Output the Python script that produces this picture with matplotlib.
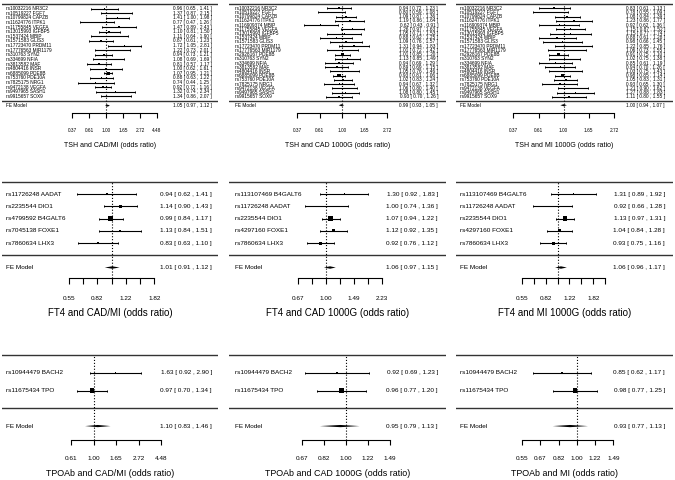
import matplotlib
matplotlib.use("Agg")
import matplotlib.pyplot as plt
import matplotlib.ticker as mticker
import matplotlib.transforms as mtransforms
import numpy as np

plt.rcParams['font.family'] = ['Liberation Sans', 'DejaVu Sans']

W, H = 675, 480

# ---------------- data ----------------
# TSH and CAD/MI
tsh_cadmi_snps = [
    "rs10032216 NR3C2", "rs10519227 FGF7", "rs10799824 CAPZB", "rs11624776 ITPK1",
    "rs11755845 VEGFA", "rs13015993 IGFBP5", "rs1537424 MBIP", "rs1571583 GLIS3",
    "rs17723470 PRDM11", "rs17776563 MIR1179", "rs310763 SYN2", "rs334699 NFIA",
    "rs3813582 MAF", "rs4804416 INSR", "rs6885099 PDE8B", "rs753760 PDE10A",
    "rs7825175 NRG1", "rs9472138 VEGFA", "rs9497965 SASH1", "rs9915657 SOX9"]
tsh_cadmi_or = [0.96, 1.37, 1.41, 0.77, 1.47, 1.10, 1.11, 0.87, 1.72, 1.22,
                0.94, 1.08, 0.81, 1.00, 1.07, 0.88, 0.74, 0.92, 1.32, 1.34]
tsh_cadmi_lo = [0.65, 0.87, 1.00, 0.47, 0.89, 0.81, 0.64, 0.61, 1.05, 0.73,
                0.73, 0.69, 0.57, 0.62, 0.95, 0.63, 0.44, 0.72, 0.74, 0.86]
tsh_cadmi_hi = [1.41, 2.15, 1.98, 1.26, 2.43, 1.50, 1.90, 1.23, 2.81, 2.01,
                1.21, 1.69, 1.17, 1.61, 1.21, 1.22, 1.25, 1.16, 2.34, 2.07]
tsh_cadmi_fe = [1.05, 0.97, 1.12]

# TSH, 1000G (shared SNP list)
tsh_1000g_snps = [
    "rs10032216 NR3C2", "rs10519227 FGF7", "rs10799824 CAPZB", "rs11624776 ITPK1",
    "rs116909374 MBIP", "rs11755845 VEGFA", "rs13015993 IGFBP5", "rs1537424 MBIP",
    "rs1571583 GLIS3", "rs17723470 PRDM11", "rs17776563 MIR1179", "rs2928167 PDE8B",
    "rs310763 SYN2", "rs334699 NFIA", "rs3813582 MAF", "rs4804416 INSR",
    "rs6885099 PDE8B", "rs753760 PDE10A", "rs7825175 NRG1", "rs9472138 VEGFA",
    "rs9497965 SASH1", "rs9915657 SOX9"]
tsh_cad_or = [0.94, 0.80, 1.09, 1.19, 0.62, 1.26, 1.05, 0.88, 1.09, 1.31, 1.01,
              1.01, 1.13, 0.94, 0.89, 1.05, 0.93, 1.02, 0.94, 1.06, 1.08, 0.93]
tsh_cad_lo = [0.72, 0.59, 0.87, 0.86, 0.43, 0.97, 0.71, 0.62, 0.76, 0.94, 0.72,
              0.85, 0.85, 0.69, 0.69, 0.76, 0.81, 0.83, 0.67, 0.80, 0.80, 0.70]
tsh_cad_hi = [1.23, 1.08, 1.36, 1.64, 0.91, 1.63, 1.53, 1.25, 1.57, 1.83, 1.42,
              1.20, 1.49, 1.29, 1.15, 1.46, 1.06, 1.24, 1.32, 1.40, 1.45, 1.26]
tsh_cad_fe = [0.99, 0.93, 1.05]

tsh_mi_or = [0.83, 0.78, 1.08, 1.23, 0.92, 1.15, 1.15, 0.88, 0.98, 1.22, 1.06,
             0.91, 1.02, 0.85, 0.94, 1.03, 0.98, 1.05, 0.93, 1.21, 1.27, 1.11]
tsh_mi_lo = [0.61, 0.55, 0.84, 0.86, 0.62, 0.87, 0.77, 0.61, 0.66, 0.85, 0.73,
             0.75, 0.75, 0.61, 0.70, 0.75, 0.85, 0.83, 0.65, 0.90, 0.88, 0.80]
tsh_mi_hi = [1.13, 1.09, 1.39, 1.77, 1.36, 1.52, 1.74, 1.28, 1.45, 1.76, 1.55,
             1.10, 1.38, 1.19, 1.26, 1.43, 1.14, 1.31, 1.30, 1.62, 1.83, 1.55]
tsh_mi_fe = [1.00, 0.94, 1.07]

# FT4
ft4_cadmi_snps = ["rs11726248 AADAT", "rs2235544 DIO1", "rs4799592 B4GALT6",
                  "rs7045138 FOXE1", "rs7860634 LHX3"]
ft4_cadmi_or = [0.94, 1.14, 0.99, 1.13, 0.83]
ft4_cadmi_lo = [0.62, 0.90, 0.84, 0.84, 0.63]
ft4_cadmi_hi = [1.41, 1.43, 1.17, 1.51, 1.10]
ft4_cadmi_fe = [1.01, 0.91, 1.12]

ft4_1000g_snps = ["rs113107469 B4GALT6", "rs11726248 AADAT", "rs2235544 DIO1",
                  "rs4297160 FOXE1", "rs7860634 LHX3"]
ft4_cad_or = [1.30, 1.00, 1.07, 1.12, 0.92]
ft4_cad_lo = [0.92, 0.74, 0.94, 0.92, 0.76]
ft4_cad_hi = [1.83, 1.36, 1.22, 1.35, 1.12]
ft4_cad_fe = [1.06, 0.97, 1.15]

ft4_mi_or = [1.31, 0.92, 1.13, 1.04, 0.93]
ft4_mi_lo = [0.89, 0.66, 0.97, 0.84, 0.75]
ft4_mi_hi = [1.92, 1.28, 1.31, 1.28, 1.16]
ft4_mi_fe = [1.06, 0.96, 1.17]

# TPOAb
tpo_snps = ["rs10944479 BACH2", "rs11675434 TPO"]
tpo_cadmi_or = [1.63, 0.97]
tpo_cadmi_lo = [0.92, 0.70]
tpo_cadmi_hi = [2.90, 1.34]
tpo_cadmi_fe = [1.10, 0.83, 1.46]

tpo_cad_or = [0.92, 0.96]
tpo_cad_lo = [0.69, 0.77]
tpo_cad_hi = [1.23, 1.20]
tpo_cad_fe = [0.95, 0.79, 1.13]

tpo_mi_or = [0.85, 0.98]
tpo_mi_lo = [0.62, 0.77]
tpo_mi_hi = [1.17, 1.25]
tpo_mi_fe = [0.93, 0.77, 1.13]

# axis tick values
ticks_a = ["0.37", "0.61", "1.00", "1.65", "2.72", "4.48"]
ticks_b = ["0.37", "0.61", "1.00", "1.65", "2.72"]
ticks_c = ["0.55", "0.67", "0.82", "1.00", "1.22", "1.49", "1.82"]
ticks_d = ["0.67", "0.82", "1.00", "1.22", "1.49", "1.82", "2.23"]
ticks_e = ["0.55", "0.67", "0.82", "1.00", "1.22", "1.49", "1.82", "2.23"]
ticks_f = ["0.61", "1.00", "1.65", "2.72", "4.48"]
ticks_g = ["0.67", "0.82", "1.00", "1.22", "1.49"]
ticks_h = ["0.55", "0.67", "0.82", "1.00", "1.22", "1.49"]

# ---------------- layout (pixels) ----------------
# column: axes left, axes right, label x, annotation right x
COLS = [(2, 218, 6, 212), (229, 446, 235, 438), (456, 673, 460, 665)]
# row: top line, separator, axis line, text size, title size, max square,
#      tick length, tick pad, title pad, diamond half height
ROWS = [(4, 101, 113, 3.4, 5.0, 1.7, 3.6, 7.0, 7.0, 1.0),
        (182, 255.3, 278.3, 4.6, 7.0, 2.2, 4.5, 8.0, 5.5, 1.2),
        (355, 408.3, 440, 4.6, 6.4, 2.2, 3.5, 7.8, 6.0, 1.1)]

fig = plt.figure(figsize=(W / 100, H / 100), dpi=100)


def forest(row, col, p1, ppu, labels, est, lo, hi, fe, ticks, every, title):
    L, R, lab_x, ann_x = COLS[col]
    top_px, sep_px, axis_px, fs, tfs, sq, tlen, tpad, lpad, dh = ROWS[row]
    k = len(labels)
    s = (sep_px - top_px) / (k + 1)
    ymin = -(axis_px - sep_px) / s
    ymax = k + 1 + 0.5
    ax_top = top_px - 0.5 * s
    ax = fig.add_axes([L / W, 1 - axis_px / H, (R - L) / W, (axis_px - ax_top) / H])
    ax.set_xscale('log')
    ax.set_xlim(np.exp((L - p1) / ppu), np.exp((R - p1) / ppu))
    ax.set_ylim(ymin, ymax)

    est, lo, hi = np.array(est), np.array(lo), np.array(hi)
    rows = np.arange(k, 0, -1)

    # square size from inverse standard error (metafor style)
    wi = 3.92 / (np.log(hi) - np.log(lo))
    ps = (wi - wi.min()) / (wi.max() - wi.min()) + 0.5
    ax.errorbar(est, rows, xerr=[est - lo, hi - est], fmt='none', ecolor='black',
                elinewidth=0.8, capsize=0.8, capthick=0.7)
    ax.scatter(est, rows, marker='s', s=(sq * ps) ** 2, color='black',
               linewidths=0, zorder=3)

    h = dh / s
    ax.fill([fe[1], fe[0], fe[2], fe[0]], [-1, -1 + h, -1, -1 - h], color='black',
            lw=0, zorder=3)

    ax.axhline(k + 1, color='#333333', lw=1.0)
    ax.axhline(0, color='#333333', lw=1.0)
    ax.plot([1, 1], [ymin, k + 1], ls=':', color='black', lw=0.8)

    tr = mtransforms.blended_transform_factory(ax.transAxes, ax.transData)
    lx = (lab_x - L) / (R - L)
    rx = (ann_x - L) / (R - L)
    for y, lab, e, a, b in zip(rows, labels, est, lo, hi):
        ax.text(lx, y, lab, transform=tr, fontsize=fs, ha='left', va='center')
        ax.text(rx, y, f"{e:.2f} [ {a:.2f} , {b:.2f} ]", transform=tr,
                fontsize=fs, ha='right', va='center')
    ax.text(lx, -1, "FE Model", transform=tr, fontsize=fs, ha='left', va='center')
    ax.text(rx, -1, f"{fe[0]:.2f} [ {fe[1]:.2f} , {fe[2]:.2f} ]", transform=tr,
            fontsize=fs, ha='right', va='center')

    tv = [float(t) for t in ticks]
    tl = [t if i % every == 0 else "" for i, t in enumerate(ticks)]
    ax.set_xticks(tv, tl)
    ax.xaxis.set_minor_locator(mticker.NullLocator())
    ax.tick_params(axis='x', direction='out', length=tlen, width=0.8,
                   labelsize=fs, pad=tpad)
    ax.set_yticks([])
    for sp in ['top', 'left', 'right']:
        ax.spines[sp].set_visible(False)
    ax.spines['bottom'].set_bounds(tv[0], tv[-1])
    ax.spines['bottom'].set_linewidth(0.8)
    ax.set_xlabel(title, fontsize=tfs, labelpad=lpad)
    ax.patch.set_alpha(0)


forest(0, 0, 106, 34, tsh_cadmi_snps, tsh_cadmi_or, tsh_cadmi_lo, tsh_cadmi_hi,
       tsh_cadmi_fe, ticks_a, 1, "TSH and CAD/MI (odds ratio)")
forest(0, 1, 342, 45, tsh_1000g_snps, tsh_cad_or, tsh_cad_lo, tsh_cad_hi,
       tsh_cad_fe, ticks_b, 1, "TSH and CAD 1000G (odds ratio)")
forest(0, 2, 563.5, 50.5, tsh_1000g_snps, tsh_mi_or, tsh_mi_lo, tsh_mi_hi,
       tsh_mi_fe, ticks_b, 1, "TSH and MI 1000G (odds ratio)")

forest(1, 0, 111.5, 71.7, ft4_cadmi_snps, ft4_cadmi_or, ft4_cadmi_lo, ft4_cadmi_hi,
       ft4_cadmi_fe, ticks_c, 2, "FT4 and CAD/MI (odds ratio)")
forest(1, 1, 326, 70, ft4_1000g_snps, ft4_cad_or, ft4_cad_lo, ft4_cad_hi,
       ft4_cad_fe, ticks_d, 2, "FT4 and CAD 1000G (odds ratio)")
forest(1, 2, 557.5, 59.7, ft4_1000g_snps, ft4_mi_or, ft4_mi_lo, ft4_mi_hi,
       ft4_mi_fe, ticks_e, 2, "FT4 and MI 1000G (odds ratio)")

forest(2, 0, 93.5, 45, tpo_snps, tpo_cadmi_or, tpo_cadmi_lo, tpo_cadmi_hi,
       tpo_cadmi_fe, ticks_f, 1, "TPOAb and CAD/MI (odds ratio)")
forest(2, 1, 346, 110.5, tpo_snps, tpo_cad_or, tpo_cad_lo, tpo_cad_hi,
       tpo_cad_fe, ticks_g, 1, "TPOAb and CAD 1000G (odds ratio)")
forest(2, 2, 576.7, 91.7, tpo_snps, tpo_mi_or, tpo_mi_lo, tpo_mi_hi,
       tpo_mi_fe, ticks_h, 1, "TPOAb and MI (odds ratio)")

fig.savefig("out.png", dpi=100, facecolor='white')
